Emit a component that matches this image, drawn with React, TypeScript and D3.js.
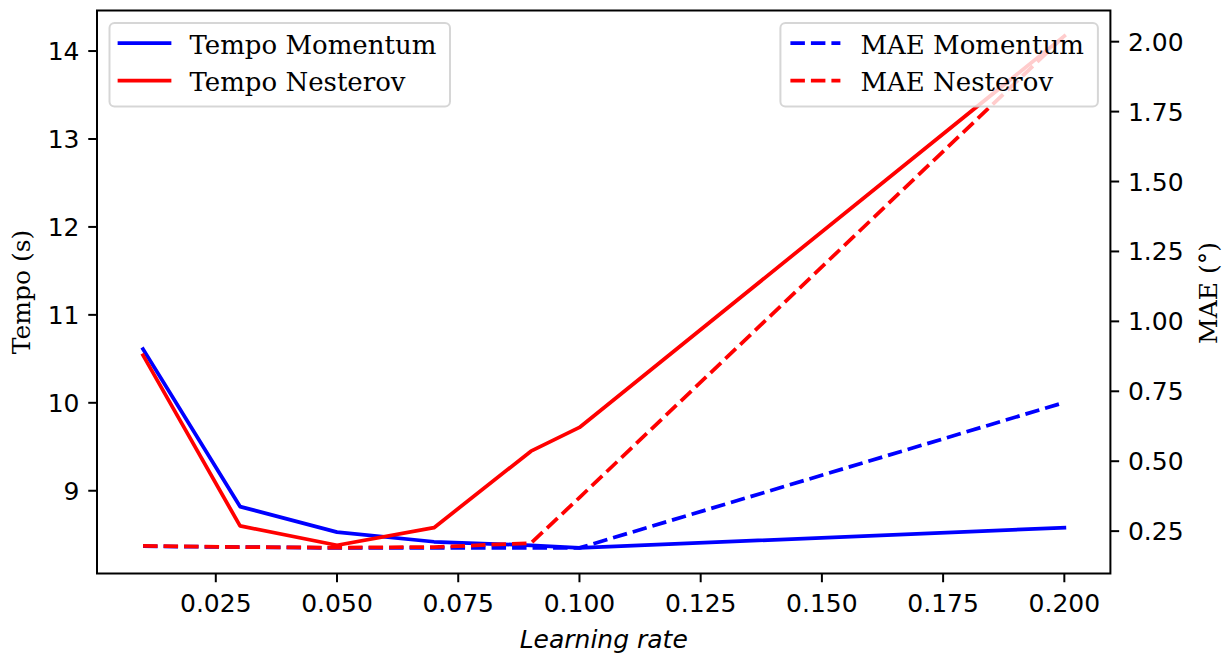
import React from "react";
import * as d3 from "d3";

const learningRates = [0.01, 0.03, 0.05, 0.07, 0.09, 0.1, 0.2];
const tempoMomentum = [10.61, 8.82, 8.53, 8.42, 8.38, 8.35, 8.58];
const tempoNesterov = [10.54, 8.6, 8.38, 8.58, 9.45, 9.72, 14.17];
const maeMomentum = [0.196, 0.193, 0.19, 0.19, 0.19, 0.19, 0.71];
const maeNesterov = [0.197, 0.193, 0.191, 0.193, 0.207, 0.37, 2.02];

const xTicks = [0.025, 0.05, 0.075, 0.1, 0.125, 0.15, 0.175, 0.2];
const leftTicks = [9, 10, 11, 12, 13, 14];
const rightTicks = [0.25, 0.5, 0.75, 1.0, 1.25, 1.5, 1.75, 2.0];

const W = 1231;
const H = 655;
const M = { left: 97, right: 1110.4, top: 10.5, bottom: 573.5 };

function padded(values: number[]): [number, number] {
  const [lo, hi] = d3.extent(values) as [number, number];
  const m = (hi - lo) * 0.05;
  return [lo - m, hi + m];
}

const SERIF = "'DejaVu Serif', serif";
const SANS = "'DejaVu Sans', sans-serif";
const FS = 25;

export default function App() {
  const x = d3.scaleLinear().domain(padded(learningRates)).range([M.left, M.right]);
  const yL = d3
    .scaleLinear()
    .domain(padded([...tempoMomentum, ...tempoNesterov]))
    .range([M.bottom, M.top]);
  const yR = d3
    .scaleLinear()
    .domain(padded([...maeMomentum, ...maeNesterov]))
    .range([M.bottom, M.top]);

  const lineL = d3
    .line<number>()
    .x((_, i) => x(learningRates[i]))
    .y((d) => yL(d));
  const lineR = d3
    .line<number>()
    .x((_, i) => x(learningRates[i]))
    .y((d) => yR(d));

  const lw = 3.75;
  const dash = "14.5 6";
  const tickLen = 8.75;

  const legend = (
    lx: number,
    ly: number,
    w: number,
    items: { label: string; color: string; dashed: boolean }[]
  ) => (
    <g>
      <rect
        x={lx}
        y={ly}
        width={w}
        height={83.5}
        rx={5}
        fill="white"
        fillOpacity={0.8}
        stroke="#cccccc"
        strokeOpacity={0.8}
        strokeWidth={2}
      />
      {items.map((it, i) => {
        const cy = ly + 20.2 + i * 37.3;
        return (
          <g key={it.label}>
            <line
              x1={lx + 10}
              x2={lx + 60}
              y1={cy}
              y2={cy}
              stroke={it.color}
              strokeWidth={lw}
              strokeDasharray={it.dashed ? dash : undefined}
              strokeLinecap={it.dashed ? "butt" : "square"}
            />
            <text
              x={lx + 80}
              y={cy + 10.5}
              fontFamily={SERIF}
              fontSize={FS + 1}
              fill="#000"
            >
              {it.label}
            </text>
          </g>
        );
      })}
    </g>
  );

  return (
    <svg
      width={W}
      height={H}
      style={{ position: "absolute", left: 0, top: 0, display: "block" }}
    >
      <rect x={0} y={0} width={W} height={H} fill="white" />
      {/* primary axis lines */}
      <path d={lineL(tempoMomentum) || ""} fill="none" stroke="#0000ff" strokeWidth={lw} strokeLinejoin="round" strokeLinecap="square" />
      <path d={lineL(tempoNesterov) || ""} fill="none" stroke="#ff0000" strokeWidth={lw} strokeLinejoin="round" strokeLinecap="square" />
      {legend(M.left + 12.5, M.top + 12.5, 340.5, [
        { label: "Tempo Momentum", color: "#0000ff", dashed: false },
        { label: "Tempo Nesterov", color: "#ff0000", dashed: false },
      ])}
      {/* secondary axis lines */}
      <path d={lineR(maeMomentum) || ""} fill="none" stroke="#0000ff" strokeWidth={lw} strokeDasharray={dash} strokeLinejoin="round" />
      <path d={lineR(maeNesterov) || ""} fill="none" stroke="#ff0000" strokeWidth={lw} strokeDasharray={dash} strokeLinejoin="round" />
      {legend(M.right - 12.5 - 317.5, M.top + 12.5, 317.5, [
        { label: "MAE Momentum", color: "#0000ff", dashed: true },
        { label: "MAE Nesterov", color: "#ff0000", dashed: true },
      ])}
      {/* spines */}
      <rect
        x={M.left}
        y={M.top}
        width={M.right - M.left}
        height={M.bottom - M.top}
        fill="none"
        stroke="#000"
        strokeWidth={2}
      />
      {/* x ticks */}
      {xTicks.map((t) => (
        <g key={"x" + t}>
          <line x1={x(t)} x2={x(t)} y1={M.bottom} y2={M.bottom + tickLen} stroke="#000" strokeWidth={2} />
          <text x={x(t)} y={M.bottom + 38} textAnchor="middle" fontFamily={SANS} fontSize={FS} fill="#000">
            {d3.format(".3f")(t)}
          </text>
        </g>
      ))}
      {/* left ticks */}
      {leftTicks.map((t) => (
        <g key={"l" + t}>
          <line x1={M.left - tickLen} x2={M.left} y1={yL(t)} y2={yL(t)} stroke="#000" strokeWidth={2} />
          <text x={M.left - 2 * tickLen} y={yL(t) + 9} textAnchor="end" fontFamily={SANS} fontSize={FS} fill="#000">
            {String(t)}
          </text>
        </g>
      ))}
      {/* right ticks */}
      {rightTicks.map((t) => (
        <g key={"r" + t}>
          <line x1={M.right} x2={M.right + tickLen} y1={yR(t)} y2={yR(t)} stroke="#000" strokeWidth={2} />
          <text x={M.right + 2 * tickLen} y={yR(t) + 9} textAnchor="start" fontFamily={SANS} fontSize={FS} fill="#000">
            {d3.format(".2f")(t)}
          </text>
        </g>
      ))}
      {/* axis labels */}
      <text
        x={(M.left + M.right) / 2}
        y={648}
        textAnchor="middle"
        fontFamily={SANS}
        fontStyle="italic"
        fontSize={FS}
        fill="#000"
      >
        Learning rate
      </text>
      <text
        transform={`translate(30,${(M.top + M.bottom) / 2}) rotate(-90)`}
        textAnchor="middle"
        fontFamily={SERIF}
        fontSize={FS}
        fill="#000"
      >
        Tempo (s)
      </text>
      <text
        transform={`translate(1217,${(M.top + M.bottom) / 2 + 1}) rotate(-90)`}
        textAnchor="middle"
        fontFamily={SERIF}
        fontSize={FS}
        fill="#000"
      >
        MAE (°)
      </text>
    </svg>
  );
}
